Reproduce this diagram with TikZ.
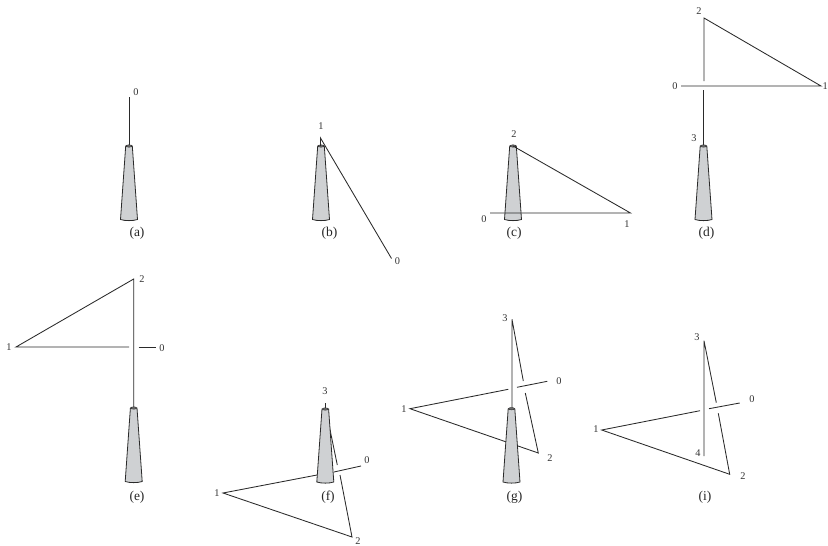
\documentclass[tikz,border=0pt]{standalone}
\usepackage{fontspec}
\setmainfont{Liberation Serif}
\definecolor{nozzlefill}{HTML}{CFD1D3}
\definecolor{inkline}{HTML}{2A2A2A}
\tikzset{
  wire/.style={draw=inkline,line width=0.85pt},
  nozzlebody/.style={fill=nozzlefill,draw=inkline,line width=0.8pt},
  num/.style={font=\fontsize{10.3}{11}\selectfont,inner sep=0pt,text=black!80},
  captxt/.style={font=\fontsize{13.5}{14}\selectfont,inner sep=0pt,text=black!85}
}
% #1 centre x, #2 top y, #3 bottom y
\newcommand{\nozzle}[3]{%
  \path[nozzlebody] (#1-3.3,#2) -- (#1-8.5,#3) .. controls (#1-4,#3+1.5) and (#1+4,#3+1.5) .. (#1+8.5,#3) -- (#1+3.3,#2) -- cycle;
  \path[fill=inkline!70,draw=inkline,line width=0.4pt] (#1,#2) ellipse (3 and 1.2);
}
\begin{document}
\begin{tikzpicture}[x=1pt,y=-1pt]
\useasboundingbox (0,0) rectangle (828,546);
\fill[white] (0,0) rectangle (828,546);
% (a)
\coordinate (a0) at (129,97); \coordinate (a1) at (129,146);
\draw[wire] (a0) -- (a1);
\nozzle{129}{146}{219.5}
\node[num] (la0) at (136,92) {0};
\node[captxt] (capa) at (137,233) {(a)};
% (b)
\coordinate (b0) at (391.5,258.5); \coordinate (b1) at (320.5,138); \coordinate (b2) at (320.5,146);
\nozzle{321}{146}{219.5}
\draw[wire] (b0) -- (b1) -- (b2);
\node[num] (lb1) at (321,126) {1};
\node[num] (lb0) at (397.5,261) {0};
\node[captxt] (capb) at (329.5,233) {(b)};
% (c)
\coordinate (c0) at (490,213); \coordinate (c1) at (630.5,213); \coordinate (c2) at (513,146);
\nozzle{513}{146}{219.5}
\draw[wire] (c0) -- (c1) -- (c2);
\node[num] (lc2) at (514,134) {2};
\node[num] (lc0) at (484,219) {0};
\node[num] (lc1) at (627,224) {1};
\node[captxt] (capc) at (514,233) {(c)};
% (d)
\coordinate (d0) at (681,86); \coordinate (d1) at (821,86); \coordinate (d2) at (704,18);
\coordinate (dg1) at (704,81); \coordinate (dg2) at (703.5,90); \coordinate (d3) at (703.5,146);
\draw[wire] (d0) -- (d1) -- (d2) -- (dg1);
\draw[wire] (dg2) -- (d3);
\nozzle{703.5}{146}{219.5}
\node[num] (ld2) at (699,11) {2};
\node[num] (ld0) at (675,86) {0};
\node[num] (ld1) at (825.3,86) {1};
\node[num] (ld3) at (694,138) {3};
\node[captxt] (capd) at (706.5,233) {(d)};
% (e)
\coordinate (e2) at (133.7,279); \coordinate (e1) at (16,347); \coordinate (eg1) at (129,347);
\coordinate (eg2) at (138.5,347); \coordinate (e0) at (156,347); \coordinate (e3) at (133.7,408);
\draw[wire] (eg1) -- (e1) -- (e2) -- (e3);
\draw[wire] (eg2) -- (e0);
\nozzle{133.7}{408}{481.5}
\node[num] (le2) at (142,279) {2};
\node[num] (le1) at (9,347) {1};
\node[num] (le0) at (162,348) {0};
\node[captxt] (cape) at (137,497) {(e)};
% (f)
\coordinate (f3) at (325.5,403); \coordinate (f1) at (223,493); \coordinate (fg1) at (317,475);
\coordinate (fg2) at (334,472); \coordinate (f0) at (361,466); \coordinate (f2) at (352,537);
\coordinate (fg3) at (340,475); \coordinate (fg4) at (337.3,465); \coordinate (f4) at (328,420);
\coordinate (f5) at (325.5,410);
\draw[wire] (fg1) -- (f1) -- (f2) -- (fg3);
\draw[wire] (fg4) -- (f4);
\draw[wire] (fg2) -- (f0);
\draw[wire] (f3) -- (f5);
\nozzle{325.3}{409}{482}
\node[num] (lf3) at (325,391) {3};
\node[num] (lf1) at (217,493) {1};
\node[num] (lf0) at (367,460) {0};
\node[num] (lf2) at (358,540.8) {2};
\node[captxt] (capf) at (328,497) {(f)};
% (g)
\coordinate (g3) at (512,319.3); \coordinate (g1) at (410,408.7); \coordinate (gg1) at (508.3,389.3);
\coordinate (gg2) at (517,387.3); \coordinate (g0) at (547.3,381.3); \coordinate (g2) at (538.3,453);
\coordinate (gg3) at (525.3,393); \coordinate (gg4) at (523.3,381); \coordinate (g4) at (512,408.7);
\draw[wire] (gg1) -- (g1) -- (g2) -- (gg3);
\draw[wire] (gg4) -- (g3) -- (g4);
\draw[wire] (gg2) -- (g0);
\nozzle{511.5}{408.7}{482}
\node[num] (lg3) at (505,318) {3};
\node[num] (lg0) at (559,381) {0};
\node[num] (lg1) at (404,409) {1};
\node[num] (lg2) at (550,458) {2};
\node[captxt] (capg) at (514.5,497) {(g)};
% (i)
\coordinate (i3) at (704,340.7); \coordinate (i4) at (704,456); \coordinate (i1) at (601.7,430);
\coordinate (ig1) at (700,410.7); \coordinate (ig2) at (709,408.7); \coordinate (i0) at (739.7,403);
\coordinate (i2) at (729.7,474.3); \coordinate (ig3) at (718.3,413.3); \coordinate (ig4) at (716.3,402.7);
\draw[wire] (ig1) -- (i1) -- (i2) -- (ig3);
\draw[wire] (ig4) -- (i3) -- (i4);
\draw[wire] (ig2) -- (i0);
\node[num] (li3) at (697,337) {3};
\node[num] (li0) at (752,399) {0};
\node[num] (li1) at (596,429) {1};
\node[num] (li2) at (743,476) {2};
\node[num] (li4) at (698,453) {4};
\node[captxt] (capi) at (705,497) {(i)};
\end{tikzpicture}
\end{document}
